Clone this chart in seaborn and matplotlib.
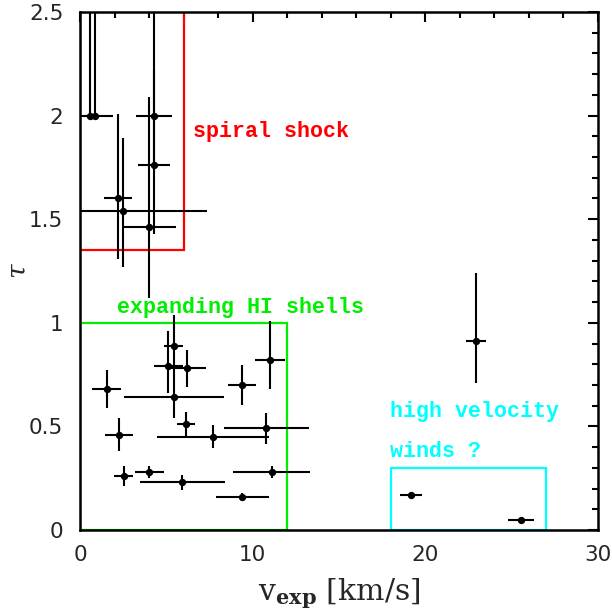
import matplotlib
matplotlib.use("Agg")
import matplotlib.pyplot as plt
import seaborn as sns
import pandas as pd
from matplotlib.patches import Rectangle
from matplotlib.ticker import MultipleLocator

# ---- data ----
v_exp = [0.6, 0.85, 4.3, 4.3, 2.22, 2.51, 4.01, 1.54, 2.24, 2.53, 4.01, 5.93, 5.12,
         5.42, 5.42, 6.20, 6.12, 7.70, 9.40, 9.40, 11.0, 10.79, 11.10, 22.93, 19.17, 25.54]
tau = [2.0, 2.0, 2.0, 1.76, 1.6, 1.54, 1.46, 0.68, 0.46, 0.26, 0.28, 0.23, 0.79,
       0.89, 0.64, 0.78, 0.51, 0.45, 0.70, 0.16, 0.82, 0.49, 0.28, 0.91, 0.17, 0.05]
v_err_lo = [0.3, 0.8, 1.03, 0.94, 0.82, 2.45, 1.5, 0.83, 0.82, 0.55, 0.84, 2.45, 0.85,
            0.53, 2.9, 1.1, 0.53, 3.22, 0.82, 1.53, 0.85, 2.45, 2.22, 0.56, 0.65, 0.75]
v_err_hi = [0.3, 1.05, 1.03, 0.94, 0.82, 4.83, 1.55, 0.83, 0.82, 0.55, 0.84, 2.45, 0.85,
            0.53, 2.94, 1.1, 0.53, 3.24, 0.82, 1.53, 0.85, 2.45, 2.22, 0.56, 0.65, 0.75]
tau_err_lo = [0.0, 0.0, 0.24, 0.33, 0.29, 0.27, 0.34, 0.09, 0.08, 0.05, 0.03, 0.035, 0.13,
              0.15, 0.1, 0.09, 0.06, 0.056, 0.095, 0.02, 0.14, 0.077, 0.03, 0.2, 0.01, 0.01]
tau_err_hi = [1.0, 1.0, 0.8, 0.46, 0.41, 0.35, 0.63, 0.09, 0.08, 0.05, 0.03, 0.035, 0.17,
              0.15, 0.1, 0.09, 0.06, 0.056, 0.095, 0.02, 0.19, 0.077, 0.03, 0.33, 0.01, 0.01]

# boxed regions
region_x0 = [0, 0, 18]
region_x1 = [6, 12, 27]
region_y0 = [1.35, 0, 0]
region_y1 = [2.6, 1.0, 0.3]
region_colors = ["#ff0000", "#00ee00", "#00ffff"]

# annotation texts
note_texts = ["spiral shock", "expanding HI shells", "high velocity", "winds ?"]
note_x = [6.54, 2.14, 17.95, 17.95]
note_y = [1.898, 1.047, 0.547, 0.354]
note_colors = ["#ff0000", "#00ee00", "#00ffff", "#00ffff"]

x_ticks = [0, 10, 20, 30]
y_ticks = [0, 0.5, 1, 1.5, 2, 2.5]
y_tick_labels = ["0", "0.5", "1", "1.5", "2", "2.5"]

df = pd.DataFrame({"v": v_exp, "tau": tau})

sns.set_style("white")
plt.rcParams["mathtext.fontset"] = "dejavuserif"
fig = plt.figure(figsize=(6.12, 6.15), dpi=100)
ax = fig.add_axes([80 / 612, 85 / 615, 518 / 612, 518 / 615])

ax.errorbar(v_exp, tau, xerr=[v_err_lo, v_err_hi], yerr=[tau_err_lo, tau_err_hi],
            fmt="none", ecolor="black", elinewidth=1.5, capsize=0, zorder=2)
sns.scatterplot(data=df, x="v", y="tau", ax=ax, color="black", s=28,
                edgecolor="black", linewidth=0, zorder=3)

for x0, x1, y0, y1, c in zip(region_x0, region_x1, region_y0, region_y1, region_colors):
    ax.add_patch(Rectangle((x0, y0), x1 - x0, y1 - y0, fill=False,
                           edgecolor=c, linewidth=1.6, zorder=1))

for t, x, y, c in zip(note_texts, note_x, note_y, note_colors):
    ax.text(x, y, t, color=c, family="Liberation Mono", fontsize=15.6,
            fontweight="bold", va="baseline", ha="left")

ax.set_xlim(0, 30)
ax.set_ylim(0, 2.5)
ax.set_xticks(x_ticks)
ax.set_yticks(y_ticks)
ax.set_yticklabels(y_tick_labels)
ax.xaxis.set_minor_locator(MultipleLocator(2))
ax.yaxis.set_minor_locator(MultipleLocator(0.1))
ax.tick_params(which="both", direction="in", top=True, right=True, width=1.5,
               labelsize=15.5, color="black")
ax.tick_params(which="major", length=7)
ax.tick_params(which="minor", length=4)
ax.tick_params(axis="x", which="major", pad=11)
ax.tick_params(axis="y", which="major", pad=12)
for lab in ax.get_xticklabels() + ax.get_yticklabels():
    lab.set_family("DejaVu Sans")
for sp in ax.spines.values():
    sp.set_linewidth(1.8)
    sp.set_color("black")

ax.set_xlabel(r"v$_{\mathbf{exp}}$ [km/s]", family="DejaVu Serif", fontsize=21.5, labelpad=8)
ax.set_ylabel(r"$\tau$", fontsize=19)
ax.yaxis.label.set_va("center")
ax.yaxis.set_label_coords(-0.118, 0.5)

fig.savefig("out.png", dpi=100)
